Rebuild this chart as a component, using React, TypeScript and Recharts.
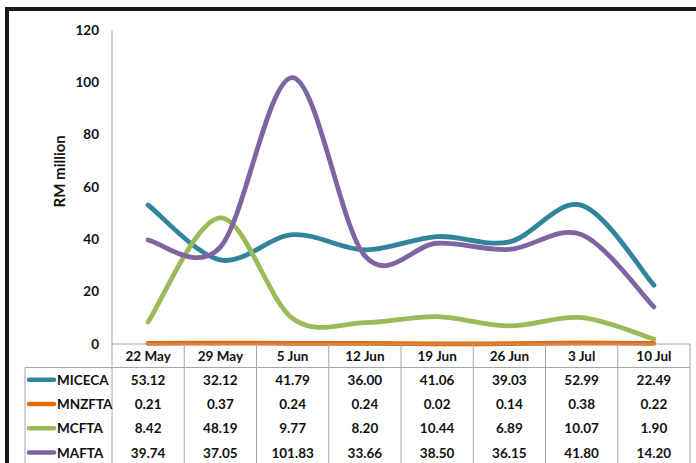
import React from 'react';
import { LineChart, Line, XAxis, YAxis, Legend } from 'recharts';

const categories = ['22 May', '29 May', '5 Jun', '12 Jun', '19 Jun', '26 Jun', '3 Jul', '10 Jul'];
const miceca = [53.12, 32.12, 41.79, 36.0, 41.06, 39.03, 52.99, 22.49];
const mnzfta = [0.21, 0.37, 0.24, 0.24, 0.02, 0.14, 0.38, 0.22];
const mcfta = [8.42, 48.19, 9.77, 8.2, 10.44, 6.89, 10.07, 1.9];
const mafta = [39.74, 37.05, 101.83, 33.66, 38.5, 36.15, 41.8, 14.2];
const yTicks = [0, 20, 40, 60, 80, 100, 120];
const seriesNames = ['MICECA', 'MNZFTA', 'MCFTA', 'MAFTA'];
const seriesColors = ['#31849B', '#E46C0A', '#9BBB59', '#8064A2'];
const seriesValues = [miceca, mnzfta, mcfta, mafta];
const yTitle = 'RM million';

const data = categories.map((c, i) => {
  const row: any = { cat: c };
  seriesNames.forEach((n, s) => {
    row[n] = seriesValues[s][i];
  });
  return row;
});

const W = 696;
const H = 463;
const COL = 72.25;
const ROW = 24.3;
const HEADER_H = 23.5;
const GRID = '#A6A6A6';
const FONT = 'Lato, "Open Sans", sans-serif';
const TXT = '#111';
const FS = 13.5;

// Excel-like smoothed line (Catmull-Rom through points)
function excelCurve(context: any) {
  let pts: number[][] = [];
  return {
    areaStart() {},
    areaEnd() {},
    lineStart() {
      pts = [];
    },
    point(x: number, y: number) {
      pts.push([+x, +y]);
    },
    lineEnd() {
      const n = pts.length;
      if (!n) return;
      context.moveTo(pts[0][0], pts[0][1]);
      for (let i = 0; i < n - 1; i++) {
        const p0 = pts[i - 1] || pts[i];
        const p1 = pts[i];
        const p2 = pts[i + 1];
        const p3 = pts[i + 2] || pts[i + 1];
        context.bezierCurveTo(
          p1[0] + (p2[0] - p0[0]) / 6,
          p1[1] + (p2[1] - p0[1]) / 6,
          p2[0] - (p3[0] - p1[0]) / 6,
          p2[1] - (p3[1] - p1[1]) / 6,
          p2[0],
          p2[1]
        );
      }
    },
  };
}

function TableColumn(props: any) {
  const { x, y, payload, index } = props;
  const i = index;
  const left = x - COL / 2;
  const right = x + COL / 2;
  const rowTop = y + HEADER_H;
  return (
    <g>
      <line x1={left} x2={left} y1={y} y2={H} stroke={GRID} strokeWidth={1} />
      {i === categories.length - 1 && (
        <line x1={right} x2={right} y1={y} y2={H} stroke={GRID} strokeWidth={1} />
      )}
      <line x1={left} x2={right} y1={rowTop} y2={rowTop} stroke={GRID} strokeWidth={1} />
      <text
        x={x}
        y={y + HEADER_H / 2}
        textAnchor="middle"
        dominantBaseline="central"
        fontFamily={FONT}
        fontWeight="bold"
        fontSize={FS}
        fill={TXT}
      >
        {payload.value}
      </text>
      {seriesValues.map((vals, r) => (
        <text
          key={r}
          x={x}
          y={rowTop + ROW * (r + 0.5)}
          textAnchor="middle"
          dominantBaseline="central"
          fontFamily={FONT}
          fontWeight="bold"
          fontSize={FS}
          fill={TXT}
        >
          {vals[i].toFixed(2)}
        </text>
      ))}
    </g>
  );
}

function LegendColumn() {
  const rowTop = 344 + HEADER_H;
  return (
    <svg width={120} height={H} style={{ display: 'block', overflow: 'visible' }}>
      <line x1={25} x2={25} y1={rowTop} y2={H} stroke={GRID} strokeWidth={1} />
      <line x1={25} x2={113} y1={rowTop} y2={rowTop} stroke={GRID} strokeWidth={1} />
      {seriesNames.map((n, r) => {
        const cy = rowTop + ROW * (r + 0.5);
        return (
          <g key={n}>
            <line x1={29} x2={54} y1={cy} y2={cy} stroke={seriesColors[r]} strokeWidth={4.5} strokeLinecap="round" />
            <text
              x={57}
              y={cy}
              dominantBaseline="central"
              fontFamily={FONT}
              fontWeight="bold"
              fontSize={FS}
              fill={TXT}
            >
              {n}
            </text>
          </g>
        );
      })}
    </svg>
  );
}

function YTitle(props: any) {
  const vb = props.viewBox || { x: 0, y: 30, width: 112, height: 314 };
  const cx = vb.x + 59;
  const cy = vb.y + vb.height * 0.45;
  return (
    <text
      x={cx}
      y={cy}
      transform={`rotate(-90, ${cx}, ${cy})`}
      textAnchor="middle"
      dominantBaseline="central"
      fontFamily={FONT}
      fontWeight="bold"
      fontSize={15}
      fill={TXT}
    >
      {yTitle}
    </text>
  );
}

export default function App() {
  return (
    <div style={{ position: 'absolute', left: 0, top: 0, width: W, height: H, background: '#fff', overflow: 'hidden' }}>
      <div
        style={{
          position: 'absolute',
          left: 5,
          top: 7,
          width: 760,
          height: 520,
          borderTop: '4px solid #1a1a1a',
          borderLeft: '4px solid #1a1a1a',
          boxSizing: 'border-box',
        }}
      />
      <div style={{ position: 'absolute', left: 0, top: 0 }}>
        <LineChart width={W} height={H} data={data} margin={{ top: 30, right: 6, bottom: 0, left: 0 }}>
          <XAxis
            dataKey="cat"
            height={119}
            padding={{ left: COL / 2, right: COL / 2 }}
            axisLine={{ stroke: GRID, strokeWidth: 1 }}
            tickLine={false}
            tickSize={0}
            tickMargin={0}
            interval={0}
            tick={<TableColumn />}
          />
          <YAxis
            width={112}
            domain={[0, 120]}
            ticks={yTicks}
            interval={0}
            axisLine={{ stroke: GRID, strokeWidth: 1 }}
            tickLine={false}
            tickSize={0}
            tickMargin={13}
            tick={{ fontFamily: FONT, fontWeight: 'bold', fontSize: FS, fill: TXT }}
            label={<YTitle />}
          />
          <Legend
            layout="horizontal"
            align="center"
            verticalAlign="middle"
            wrapperStyle={{ position: 'absolute', left: 0, top: 0, width: 120, height: H }}
            content={<LegendColumn />}
          />
          {seriesNames.map((n, s) => (
            <Line
              key={n}
              dataKey={n}
              name={n}
              type={excelCurve as any}
              stroke={seriesColors[s]}
              strokeWidth={4.8}
              strokeLinecap="round"
              dot={false}
              activeDot={false}
              isAnimationActive={false}
            />
          ))}
        </LineChart>
      </div>
    </div>
  );
}
